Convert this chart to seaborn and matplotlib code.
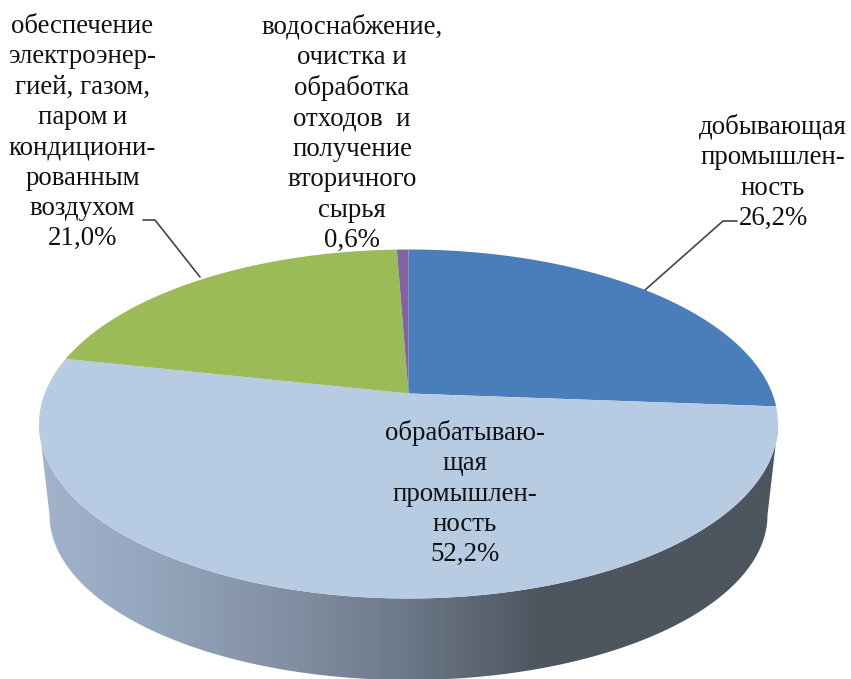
import numpy as np
import seaborn as sns
import matplotlib.pyplot as plt
from matplotlib.colors import LinearSegmentedColormap
from matplotlib.patches import Polygon

categories = ["добывающая промышленность", "обрабатывающая промышленность",
              "обеспечение электроэнергией", "водоснабжение"]
shares = [26.2, 52.2, 21.0, 0.6]
colors = ["#4A7EBB", "#B7CBE2", "#9BBB59", "#8064A2"]

label_mining = "добывающая\nпромышлен-\nность\n26,2%"
label_manuf = "обрабатываю-\nщая\nпромышлен-\nность\n52,2%"
label_power = "обеспечение\nэлектроэнер-\nгией, газом,\nпаром\u2009и\nкондициони-\nрованным\nвоздухом\n21,0%"
label_water = "водоснабжение,\nочистка и\nобработка\nотходов  и\nполучение\nвторичного\nсырья\n0,6%"

# pie geometry in pixels, top face and bottom rim
cx, cy, rx, ry = 408.5, 424, 369.5, 174.5
bx, by, brx, bry = 408.5, 515, 359, 165
persp = 0.838

side_colors = ["#A2B4CB", "#94A6BD", "#808EA1", "#6C7888", "#4D555F", "#4D565E"]
side_stops = [0.0, 0.15, 0.35, 0.5, 0.68, 1.0]


def rim_point(theta):
    # theta in radians clockwise from top, squeezed because of the perspective
    phi = 2 * np.arctan(persp * np.tan(theta / 2))
    return cx + rx * np.sin(phi), cy - ry * np.cos(phi)


sns.set_theme(style="white")
plt.rcParams['font.family'] = ['Liberation Serif', 'DejaVu Serif']

fig = plt.figure(figsize=(8.51, 6.79), dpi=100)
ax = fig.add_axes([0, 0, 1, 1])

# side wall with the horizontal gradient
t = np.linspace(0, np.pi, 200)
top_edge = np.column_stack([cx - rx * np.cos(t), cy + ry * np.sin(t)])
bottom_edge = np.column_stack([bx + brx * np.cos(t), by + bry * np.sin(t)])
wall = Polygon(np.vstack([top_edge, bottom_edge]), closed=True, fc="none", ec="none")
ax.add_patch(wall)
cmap = LinearSegmentedColormap.from_list("side", list(zip(side_stops, side_colors)))
grad = ax.imshow(np.linspace(0, 1, 512).reshape(1, -1), cmap=cmap, aspect="auto",
                 extent=[cx - rx, cx + rx, 679, 400], zorder=1)
grad.set_clip_path(wall)

# top face
apex = (cx, cy - ry * np.cos(2 * np.arctan(persp)))
edges = np.radians(np.cumsum([0] + shares) * 3.6)
for start, end, col in zip(edges[:-1], edges[1:], colors):
    th = np.linspace(start, min(end, 2 * np.pi - 1e-6), 200)
    xs, ys = rim_point(th)
    ax.fill(np.r_[apex[0], xs], np.r_[apex[1], ys], color=col, lw=0, zorder=2)

ax.set_xlim(0, 851)
ax.set_ylim(679, 0)
ax.axis("off")

# leader lines
ax.plot([143, 155, 200], [220, 220, 277], color="#444444", lw=1.2, zorder=3)
ax.plot([737, 723, 645], [221, 221, 290], color="#444444", lw=1.2, zorder=3)

font = dict(ha="center", va="top", fontsize=19.4, color="#111111", linespacing=1.28, zorder=4)
ax.text(773, 114, label_mining, **font)
ax.text(465, 420, label_manuf, **font)
ax.text(82.5, 14, label_power, **font)
ax.text(352, 14, label_water, **font)

fig.savefig("out.png", dpi=100)
